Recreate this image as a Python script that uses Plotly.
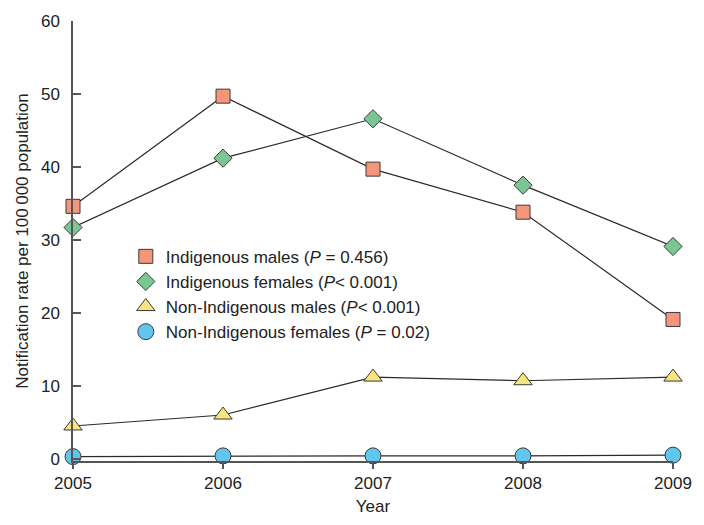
import plotly.graph_objects as go

years = [2005, 2006, 2007, 2008, 2009]
indigenous_males = [34.6, 49.7, 39.7, 33.8, 19.1]
indigenous_females = [31.7, 41.2, 46.6, 37.5, 29.1]
non_indigenous_males = [4.5, 6.0, 11.2, 10.7, 11.2]
non_indigenous_females = [0.3, 0.4, 0.4, 0.4, 0.5]

series_names = [
    "Indigenous males (<i>P</i> = 0.456)",
    "Indigenous females (<i>P</i>< 0.001)",
    "Non-Indigenous males (<i>P</i>< 0.001)",
    "Non-Indigenous females (<i>P</i> = 0.02)",
]
y_ticks = [0, 10, 20, 30, 40, 50, 60]

FONT = "Liberation Sans, Arial, Helvetica, sans-serif"
LINE = "#2b2b2b"
EDGE = "#3a3a3a"
TXT = "#222"

styles = [
    dict(symbol="square", size=14, color="#F5967C"),
    dict(symbol="diamond", size=14, color="#7AC794"),
    dict(symbol="triangle-up", size=16, color="#F7E680"),
    dict(symbol="circle", size=16, color="#62C5EE"),
]
data = [indigenous_males, indigenous_females, non_indigenous_males, non_indigenous_females]

fig = go.Figure()
# connecting lines (not in legend)
for ys in data:
    fig.add_trace(go.Scatter(
        x=years, y=ys, mode="lines", showlegend=False, hoverinfo="skip",
        line=dict(color=LINE, width=1.2), cliponaxis=False,
    ))
# markers (in legend)
for name, ys, st in zip(series_names, data, styles):
    fig.add_trace(go.Scatter(
        x=years, y=ys, name=name, mode="markers",
        marker=dict(symbol=st["symbol"], size=st["size"], color=st["color"],
                    line=dict(color=EDGE, width=1)),
        cliponaxis=False,
    ))

fig.update_layout(
    width=704, height=525,
    margin=dict(l=73, r=29, t=20, b=64),
    paper_bgcolor="white", plot_bgcolor="white",
    font=dict(family=FONT, size=17, color=TXT),
    showlegend=True,
    legend=dict(
        x=0.088, y=0.505, xanchor="left", yanchor="top",
        bgcolor="rgba(0,0,0,0)", font=dict(size=17, family=FONT, color=TXT),
        itemwidth=30, tracegroupgap=0,
    ),
    xaxis=dict(
        range=[2005, 2009], tickvals=years, ticktext=[str(y) for y in years],
        showgrid=False, zeroline=False, showline=True, linecolor="#555", linewidth=1.5,
        ticks="outside", ticklen=6, tickcolor="#555", tickwidth=1.5,
        tickfont=dict(size=17, family=FONT, color=TXT),
        title=dict(text="Year", font=dict(size=17, family=FONT, color=TXT), standoff=8),
    ),
    yaxis=dict(
        range=[-0.3, 60], tickvals=y_ticks,
        showgrid=False, zeroline=False, showline=True, linecolor="#555", linewidth=1.5,
        ticks="inside", ticklen=8, tickcolor="#555", tickwidth=1.5,
        ticklabelstandoff=8,
        tickfont=dict(size=17, family=FONT, color=TXT),
        title=dict(text="Notification rate per 100\u2009000 population",
                   font=dict(size=17, family=FONT, color=TXT), standoff=8),
    ),
)

fig.write_html("out.html", config={"displayModeBar": False},
               post_script="document.body.style.margin='0';")
